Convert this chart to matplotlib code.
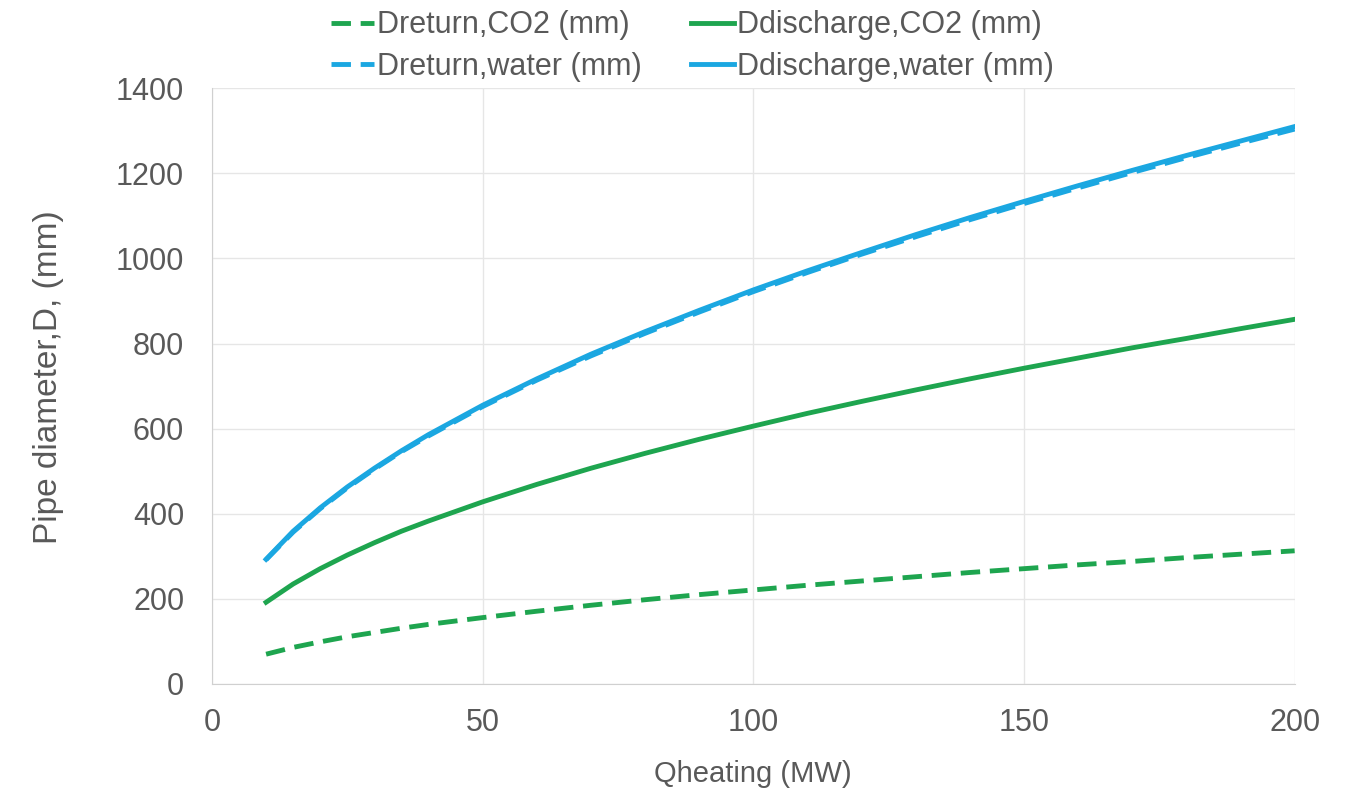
import numpy as np
import matplotlib.pyplot as plt

plt.rcParams['font.family'] = ['Liberation Sans', 'DejaVu Sans']

# heating load (MW) and pipe diameters (mm)
q_heating = [10, 15, 20, 25, 30, 35, 40, 50, 60, 70, 80, 90, 100,
             110, 120, 130, 140, 150, 160, 170, 180, 190, 200]
d_return_co2 = [70, 86, 99, 111, 121, 131, 140, 156, 171, 185, 198, 210, 221,
                232, 242, 252, 262, 271, 280, 288, 297, 305, 313]
d_discharge_co2 = [192, 235, 271, 303, 332, 359, 383, 428, 469, 507, 542, 575, 606,
                   636, 664, 691, 717, 742, 766, 790, 812, 835, 857]
d_return_water = [292, 357, 412, 461, 505, 546, 583, 652, 714, 771, 824, 874, 922,
                  967, 1010, 1051, 1091, 1129, 1166, 1202, 1237, 1271, 1304]
d_discharge_water = [293, 359, 414, 463, 507, 548, 586, 655, 717, 775, 828, 878, 926,
                     971, 1014, 1056, 1096, 1134, 1171, 1207, 1242, 1276, 1310]

green = '#1ea54f'
blue = '#1ba7e1'
txt = '#595959'

fig = plt.figure(figsize=(13.5, 7.88), dpi=100)
ax = fig.add_axes([0.157, 0.132, 0.802, 0.756])

ax.plot(q_heating, d_return_co2, color=green, lw=3.5, dashes=(4, 2),
        label='Dreturn,CO2 (mm)')
ax.plot(q_heating, d_return_water, color=blue, lw=3.5, dashes=(4, 2),
        label='Dreturn,water (mm)')
ax.plot(q_heating, d_discharge_co2, color=green, lw=3.5,
        label='Ddischarge,CO2 (mm)')
ax.plot(q_heating, d_discharge_water, color=blue, lw=3.5,
        label='Ddischarge,water (mm)')

ax.set_xlim(0, 200)
ax.set_ylim(0, 1400)
ax.set_xticks(np.arange(0, 201, 50))
ax.set_yticks(np.arange(0, 1401, 200))
ax.grid(True, color='#e6e6e6', lw=1)
ax.set_axisbelow(True)
for s in ax.spines.values():
    s.set_visible(False)
ax.spines['left'].set_visible(True)
ax.spines['bottom'].set_visible(True)
ax.spines['left'].set_color('#d0d0d0')
ax.spines['bottom'].set_color('#d0d0d0')
ax.tick_params(length=0, labelsize=22, colors=txt)
ax.tick_params(axis='y', pad=20)
ax.tick_params(axis='x', pad=17)

ax.set_xlabel('Qheating (MW)', fontsize=21, color=txt)
ax.xaxis.set_label_coords(0.5, -0.128)
ax.set_ylabel('Pipe diameter,D, (mm)', fontsize=24, color=txt)
ax.yaxis.set_label_coords(-0.137, 0.515)

fig.legend(*ax.get_legend_handles_labels(), ncol=2, loc='upper center',
           bbox_to_anchor=(0.513, 1.01), frameon=False, fontsize=22,
           labelcolor=txt, handlelength=1.4, handletextpad=0.1,
           columnspacing=1.6, labelspacing=0.38, borderpad=0.1)

fig.savefig('out.png', dpi=100)
